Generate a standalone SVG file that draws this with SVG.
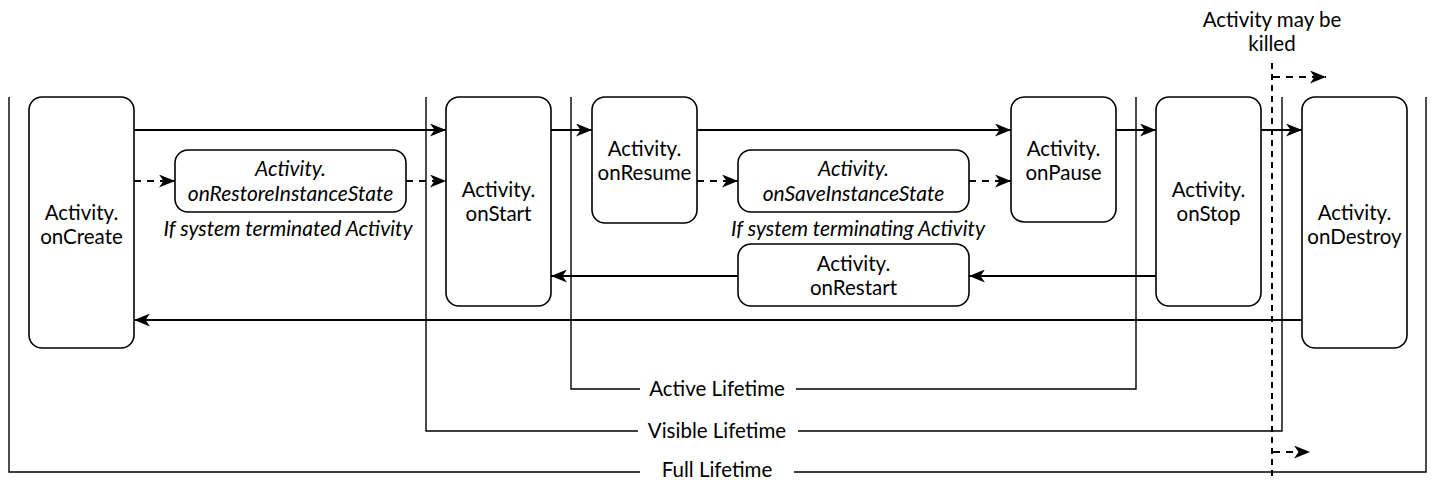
<svg xmlns="http://www.w3.org/2000/svg" width="1436" height="480" viewBox="0 0 1436 480">
<style>
.box{fill:#fff;stroke:#000;stroke-width:1.6}
.t{font-family:Lato,"Open Sans",sans-serif;font-size:20.5px;fill:#000;text-anchor:middle}
.i{font-style:italic;font-size:21px}
.life{fill:none;stroke:#000;stroke-width:1.4}
.a{fill:none;stroke:#000;stroke-width:2;marker-end:url(#ah)}
.d{fill:none;stroke:#000;stroke-width:2;stroke-dasharray:7,6;marker-end:url(#ah)}
</style>
<defs>
<marker id="ah" viewBox="0 0 16 13" refX="16" refY="6.5" markerWidth="16" markerHeight="13" markerUnits="userSpaceOnUse" orient="auto">
<path d="M0,0 L16,6.5 L0,13 L4.5,6.5 Z" fill="#000"/>
</marker>
</defs>
<rect width="1436" height="480" fill="#fff"/>
<g id="lifetimes">
<path class="life" d="M9,97 V472 H640 M794,472 H1426 V97"/>
<text class="t" x="717" y="477">Full Lifetime</text>
<path class="life" d="M426,97 V431 H638 M798,431 H1282 V97"/>
<text class="t" x="717" y="438">Visible Lifetime</text>
<path class="life" d="M571,97 V389 H640 M796,389 H1136 V97"/>
<text class="t" x="717" y="396">Active Lifetime</text>
</g>
<g id="killed">
<text class="t" x="1272" y="27">Activity may be</text>
<text class="t" x="1272" y="51">killed</text>
<path d="M1272,63 V480" stroke="#000" stroke-width="2" stroke-dasharray="6,5" fill="none"/>
<path class="d" d="M1273,77 H1326"/>
<path class="d" d="M1273,452 H1310"/>
</g>
<g id="connectors">
<path class="a" d="M134,130 H446"/>
<path class="d" d="M134,181 H175"/>
<path class="d" d="M406,181 H446"/>
<path class="a" d="M551,130 H592"/>
<path class="a" d="M697,130 H1011"/>
<path class="d" d="M697,181 H738"/>
<path class="d" d="M969,181 H1011"/>
<path class="a" d="M1116,130 H1156"/>
<path class="a" d="M1261,130 H1302"/>
<path class="a" d="M1156,276 H969"/>
<path class="a" d="M738,276 H551"/>
<path class="a" d="M1302,320 H134"/>
</g>
<g id="onCreate"><rect class="box" x="29" y="97" width="105" height="251" rx="13"/><text class="t" x="81.5" y="220">Activity.</text><text class="t" x="81.5" y="244">onCreate</text></g>
<g id="onRestoreInstanceState"><rect class="box" x="175" y="150" width="231" height="62" rx="13"/><text class="t i" x="290.5" y="176">Activity.</text><text class="t i" x="290.5" y="201">onRestoreInstanceState</text></g>
<text class="t i" x="288" y="236">If system terminated Activity</text>
<g id="onStart"><rect class="box" x="446" y="97" width="105" height="209" rx="13"/><text class="t" x="498.5" y="197">Activity.</text><text class="t" x="498.5" y="221">onStart</text></g>
<g id="onResume"><rect class="box" x="592" y="97" width="105" height="126" rx="13"/><text class="t" x="644.5" y="156">Activity.</text><text class="t" x="644.5" y="180">onResume</text></g>
<g id="onSaveInstanceState"><rect class="box" x="738" y="150" width="231" height="62" rx="13"/><text class="t i" x="853.5" y="176">Activity.</text><text class="t i" x="853.5" y="201">onSaveInstanceState</text></g>
<text class="t i" x="858" y="236">If system terminating Activity</text>
<g id="onRestart"><rect class="box" x="738" y="244" width="231" height="62" rx="13"/><text class="t" x="853.5" y="271">Activity.</text><text class="t" x="853.5" y="295">onRestart</text></g>
<g id="onPause"><rect class="box" x="1011" y="97" width="105" height="125" rx="13"/><text class="t" x="1063.5" y="156">Activity.</text><text class="t" x="1063.5" y="180">onPause</text></g>
<g id="onStop"><rect class="box" x="1156" y="97" width="105" height="209" rx="13"/><text class="t" x="1208.5" y="197">Activity.</text><text class="t" x="1208.5" y="221">onStop</text></g>
<g id="onDestroy"><rect class="box" x="1302" y="97" width="105" height="251" rx="13"/><text class="t" x="1354.5" y="220">Activity.</text><text class="t" x="1354.5" y="244">onDestroy</text></g>
</svg>
